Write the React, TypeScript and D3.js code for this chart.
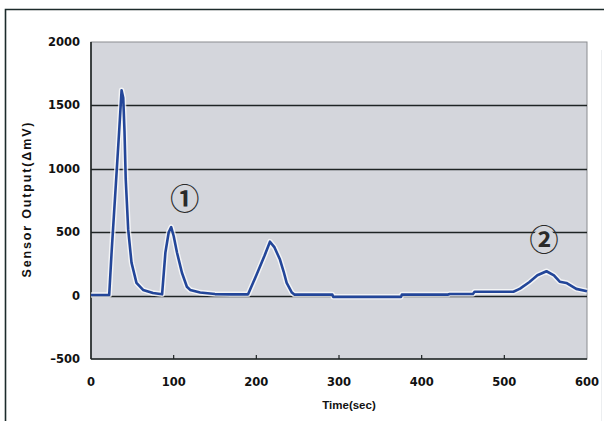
import { useEffect, useRef } from "react"
import * as d3 from "d3"

// sensor response over time
const timeSec = [
  0, 22, 25, 30, 34, 37, 39, 40.5, 42, 45, 49, 55, 63, 75, 86, 90, 94, 97, 100, 104, 110, 116, 120, 132, 150, 170,
  190, 200, 210, 216.5, 222, 228.6, 233, 236.7, 243, 246, 292, 293, 375, 376, 432, 434, 462, 464, 511, 516.5, 519,
  530, 540, 551, 560, 567, 575, 587, 600,
]
const outputMv = [
  5, 5, 350, 870, 1290, 1620, 1560, 1300, 920, 520, 260, 100, 45, 20, 10, 340, 500, 540, 470, 340, 180, 70, 45, 24,
  12, 10, 10, 160, 316, 425, 380, 284, 190, 100, 24, 8, 8, -10, -10, 8, 8, 13, 13, 30, 30, 47, 55, 105, 160, 192, 160,
  110, 100, 53, 34,
]

const yTicks = [-500, 0, 500, 1000, 1500, 2000]
const xTicks = [0, 100, 200, 300, 400, 500, 600]

const marks = ["①", "②"]
const markTime = [113.5, 548]
const markValue = [758, 435]

const W = 604
const H = 421

const App = () => {
  const svgRef = useRef<SVGSVGElement>(null)

  useEffect(() => {
    const svg = d3.select(svgRef.current)
    svg.selectAll("*").remove()

    const x = d3.scaleLinear().domain([0, 600]).range([91, 587])
    const y = d3.scaleLinear().domain([-500, 2000]).range([359, 42])

    svg.append("rect").attr("width", W).attr("height", H).attr("fill", "#ffffff")

    // outer frame
    svg.append("path").attr("d", `M5.5,${H} V9.5 H${W}`).attr("fill", "none").attr("stroke", "#1c2b2b").attr("stroke-width", 1.6)
    svg.append("line").attr("x1", 601.5).attr("x2", 601.5).attr("y1", 50).attr("y2", H).attr("stroke", "#eceef0").attr("stroke-width", 1)

    // plot area
    svg
      .append("rect")
      .attr("x", x(0))
      .attr("y", y(2000))
      .attr("width", x(600) - x(0))
      .attr("height", y(-500) - y(2000))
      .attr("fill", "#d4d6dc")
      .attr("stroke", "#8a8c90")
      .attr("stroke-width", 1)

    // gridlines
    svg
      .append("g")
      .selectAll("line")
      .data(yTicks.filter((d) => d > -500 && d < 2000))
      .join("line")
      .attr("x1", x(0))
      .attr("x2", x(600))
      .attr("y1", (d) => Math.round(y(d)) + 0.5)
      .attr("y2", (d) => Math.round(y(d)) + 0.5)
      .attr("stroke", "#1e2424")
      .attr("stroke-width", 1.4)

    // axes
    svg.append("line").attr("x1", x(0)).attr("x2", x(0)).attr("y1", y(2000)).attr("y2", y(-500)).attr("stroke", "#1e2424").attr("stroke-width", 1.6)
    svg.append("line").attr("x1", x(0)).attr("x2", x(600)).attr("y1", y(-500)).attr("y2", y(-500)).attr("stroke", "#1e2424").attr("stroke-width", 1.6)

    svg
      .append("g")
      .selectAll("line")
      .data(xTicks.slice(1, -1))
      .join("line")
      .attr("x1", (d) => x(d))
      .attr("x2", (d) => x(d))
      .attr("y1", y(-500))
      .attr("y2", y(-500) - 4)
      .attr("stroke", "#1e2424")
      .attr("stroke-width", 1.2)

    // series, with a light halo like the scan
    const line = d3
      .line<number>()
      .x((_, i) => x(timeSec[i]))
      .y((d) => y(d))

    svg
      .append("path")
      .datum(outputMv)
      .attr("fill", "none")
      .attr("stroke", "#ffffff")
      .attr("stroke-opacity", 0.75)
      .attr("stroke-width", 5.5)
      .attr("stroke-linejoin", "round")
      .attr("d", line)
    svg
      .append("path")
      .datum(outputMv)
      .attr("fill", "none")
      .attr("stroke", "#234699")
      .attr("stroke-width", 2.6)
      .attr("stroke-linejoin", "round")
      .attr("d", line)

    // circled markers
    const mk = svg
      .append("g")
      .selectAll("g")
      .data(marks)
      .join("g")
      .attr("transform", (_, i) => `translate(${x(markTime[i])},${y(markValue[i])})`)
    mk.append("circle").attr("r", 12).attr("fill", "#d4d6dc")
    mk
      .append("text")
      .attr("text-anchor", "middle")
      .attr("dy", "0.36em")
      .style("font-family", "'Noto Sans CJK JP', sans-serif")
      .style("font-size", "29px")
      .style("font-weight", "bold")
      .style("fill", "#2a2a2a")
      .text((d) => d)

    // tick labels
    const tickFont = "'DejaVu Sans', sans-serif"
    svg
      .append("g")
      .selectAll("text")
      .data(yTicks)
      .join("text")
      .attr("x", 80)
      .attr("y", (d) => y(d) + 4)
      .attr("text-anchor", "end")
      .style("font-family", tickFont)
      .style("font-weight", "bold")
      .style("font-size", "11.5px")
      .style("fill", "#111")
      .text((d) => (d < 0 ? `\u2013${-d}` : d))

    svg
      .append("g")
      .selectAll("text")
      .data(xTicks)
      .join("text")
      .attr("x", (d) => x(d))
      .attr("y", 386)
      .attr("text-anchor", "middle")
      .style("font-family", tickFont)
      .style("font-weight", "bold")
      .style("font-size", "11.5px")
      .style("fill", "#111")
      .text((d) => d)

    // axis titles
    svg
      .append("text")
      .attr("x", 349)
      .attr("y", 409)
      .attr("text-anchor", "middle")
      .style("font-family", "'Liberation Sans', Arial, sans-serif")
      .style("font-weight", "bold")
      .style("font-size", "11.5px")
      .style("fill", "#111")
      .text("Time(sec)")

    svg
      .append("text")
      .attr("transform", "translate(27,200) rotate(-90)")
      .attr("text-anchor", "middle")
      .attr("dy", "0.35em")
      .attr("textLength", 155)
      .attr("lengthAdjust", "spacing")
      .style("font-family", "'Liberation Sans', Arial, sans-serif")
      .style("font-weight", "bold")
      .style("font-size", "12.5px")
      .style("fill", "#111")
      .text("Sensor Output(\u0394mV)")
  }, [])

  return <svg ref={svgRef} width={W} height={H} style={{ position: "absolute", left: 0, top: 0, display: "block" }}></svg>
}

export default App
